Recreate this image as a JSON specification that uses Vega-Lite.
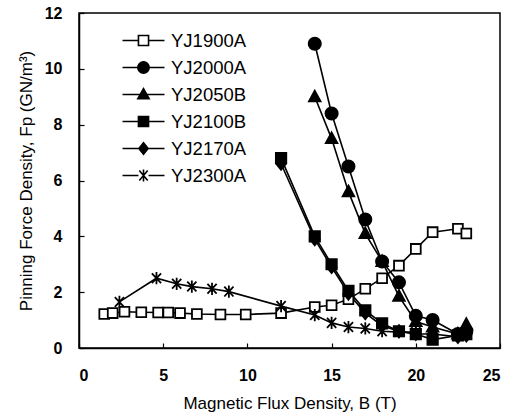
{
  "$schema": "https://vega.github.io/schema/vega-lite/v6.json",
  "width": 421,
  "height": 335,
  "autosize": {"type": "none"},
  "padding": {"left": 79, "top": 13, "right": 15, "bottom": 66},
  "background": "white",
  "config": {
    "font": "Liberation Sans",
    "view": {"stroke": "black", "strokeWidth": 1.5},
    "axis": {
      "grid": false,
      "domainColor": "black",
      "domainWidth": 1.5,
      "tickColor": "black",
      "tickWidth": 1.2,
      "tickSize": -5,
      "labelColor": "black",
      "labelFont": "Liberation Sans",
      "labelFontSize": 16,
      "labelFontWeight": "bold",
      "titleColor": "black",
      "titleFont": "Liberation Sans",
      "titleFontSize": 17,
      "titleFontWeight": "normal"
    },
    "legend": {
      "title": null,
      "orient": "none",
      "legendX": 53,
      "legendY": 16,
      "padding": 0,
      "symbolSize": 441,
      "symbolStrokeColor": "black",
      "symbolStrokeWidth": 1.6,
      "symbolOpacity": 1,
      "labelFontSize": 18.5,
      "labelFont": "Liberation Sans",
      "labelColor": "black",
      "labelOffset": 16,
      "rowPadding": 6
    }
  },
  "data": {
    "values": [
      {"series": "YJ1900A", "B": 1.5, "Fp": 1.22},
      {"series": "YJ1900A", "B": 2.0, "Fp": 1.25},
      {"series": "YJ1900A", "B": 2.7, "Fp": 1.3},
      {"series": "YJ1900A", "B": 3.7, "Fp": 1.28},
      {"series": "YJ1900A", "B": 4.7, "Fp": 1.27},
      {"series": "YJ1900A", "B": 5.3, "Fp": 1.27},
      {"series": "YJ1900A", "B": 6.0, "Fp": 1.25},
      {"series": "YJ1900A", "B": 7.0, "Fp": 1.22},
      {"series": "YJ1900A", "B": 8.4, "Fp": 1.2},
      {"series": "YJ1900A", "B": 9.9, "Fp": 1.2},
      {"series": "YJ1900A", "B": 12.0, "Fp": 1.25},
      {"series": "YJ1900A", "B": 14.0, "Fp": 1.47},
      {"series": "YJ1900A", "B": 15.0, "Fp": 1.53},
      {"series": "YJ1900A", "B": 16.0, "Fp": 1.75},
      {"series": "YJ1900A", "B": 17.0, "Fp": 2.12},
      {"series": "YJ1900A", "B": 18.0, "Fp": 2.5},
      {"series": "YJ1900A", "B": 19.0, "Fp": 2.95},
      {"series": "YJ1900A", "B": 20.0, "Fp": 3.55},
      {"series": "YJ1900A", "B": 21.0, "Fp": 4.15},
      {"series": "YJ1900A", "B": 22.5, "Fp": 4.27},
      {"series": "YJ1900A", "B": 23.0, "Fp": 4.1},
      {"series": "YJ2000A", "B": 14.0, "Fp": 10.9},
      {"series": "YJ2000A", "B": 15.0, "Fp": 8.4},
      {"series": "YJ2000A", "B": 16.0, "Fp": 6.5},
      {"series": "YJ2000A", "B": 17.0, "Fp": 4.6},
      {"series": "YJ2000A", "B": 18.0, "Fp": 3.1},
      {"series": "YJ2000A", "B": 19.0, "Fp": 2.35},
      {"series": "YJ2000A", "B": 20.0, "Fp": 1.15},
      {"series": "YJ2000A", "B": 21.0, "Fp": 1.0},
      {"series": "YJ2000A", "B": 22.5, "Fp": 0.5},
      {"series": "YJ2000A", "B": 23.0, "Fp": 0.6},
      {"series": "YJ2050B", "B": 14.0, "Fp": 9.0},
      {"series": "YJ2050B", "B": 15.0, "Fp": 7.5},
      {"series": "YJ2050B", "B": 16.0, "Fp": 5.6},
      {"series": "YJ2050B", "B": 17.0, "Fp": 4.1},
      {"series": "YJ2050B", "B": 18.0, "Fp": 3.1},
      {"series": "YJ2050B", "B": 19.0, "Fp": 1.85},
      {"series": "YJ2050B", "B": 20.0, "Fp": 0.95},
      {"series": "YJ2050B", "B": 21.0, "Fp": 0.75},
      {"series": "YJ2050B", "B": 22.5, "Fp": 0.5},
      {"series": "YJ2050B", "B": 23.0, "Fp": 0.85},
      {"series": "YJ2100B", "B": 12.0, "Fp": 6.8},
      {"series": "YJ2100B", "B": 14.0, "Fp": 4.0},
      {"series": "YJ2100B", "B": 15.0, "Fp": 3.0},
      {"series": "YJ2100B", "B": 16.0, "Fp": 2.05},
      {"series": "YJ2100B", "B": 17.0, "Fp": 1.35},
      {"series": "YJ2100B", "B": 18.0, "Fp": 0.88},
      {"series": "YJ2100B", "B": 19.0, "Fp": 0.6},
      {"series": "YJ2100B", "B": 20.0, "Fp": 0.5},
      {"series": "YJ2100B", "B": 21.0, "Fp": 0.3},
      {"series": "YJ2100B", "B": 22.5, "Fp": 0.45},
      {"series": "YJ2100B", "B": 23.0, "Fp": 0.5},
      {"series": "YJ2170A", "B": 12.0, "Fp": 6.6},
      {"series": "YJ2170A", "B": 14.0, "Fp": 3.9},
      {"series": "YJ2170A", "B": 15.0, "Fp": 2.9},
      {"series": "YJ2170A", "B": 16.0, "Fp": 1.95},
      {"series": "YJ2170A", "B": 17.0, "Fp": 1.25},
      {"series": "YJ2170A", "B": 18.0, "Fp": 0.8},
      {"series": "YJ2170A", "B": 19.0, "Fp": 0.6},
      {"series": "YJ2170A", "B": 20.0, "Fp": 0.5},
      {"series": "YJ2170A", "B": 21.0, "Fp": 0.5},
      {"series": "YJ2170A", "B": 22.5, "Fp": 0.4},
      {"series": "YJ2170A", "B": 23.0, "Fp": 0.45},
      {"series": "YJ2300A", "B": 2.4, "Fp": 1.65},
      {"series": "YJ2300A", "B": 4.6, "Fp": 2.5},
      {"series": "YJ2300A", "B": 5.8, "Fp": 2.3},
      {"series": "YJ2300A", "B": 6.7, "Fp": 2.2},
      {"series": "YJ2300A", "B": 7.9, "Fp": 2.12},
      {"series": "YJ2300A", "B": 8.9, "Fp": 2.02},
      {"series": "YJ2300A", "B": 12.0, "Fp": 1.5},
      {"series": "YJ2300A", "B": 14.0, "Fp": 1.18},
      {"series": "YJ2300A", "B": 15.0, "Fp": 0.9},
      {"series": "YJ2300A", "B": 16.0, "Fp": 0.75},
      {"series": "YJ2300A", "B": 17.0, "Fp": 0.7},
      {"series": "YJ2300A", "B": 18.0, "Fp": 0.6},
      {"series": "YJ2300A", "B": 19.0, "Fp": 0.57},
      {"series": "YJ2300A", "B": 20.0, "Fp": 0.57}
    ]
  },
  "encoding": {
    "x": {
      "field": "B",
      "type": "quantitative",
      "scale": {"domain": [0, 25], "nice": false},
      "axis": {"values": [0, 5, 10, 15, 20, 25], "title": "Magnetic Flux Density, B (T)", "labelPadding": 24, "titlePadding": 12}
    },
    "y": {
      "field": "Fp",
      "type": "quantitative",
      "scale": {"domain": [0, 12], "nice": false},
      "axis": {"values": [0, 2, 4, 6, 8, 10, 12], "title": "Pinning Force Density, Fp (GN/m³)", "labelPadding": 22, "titlePadding": 9}
    }
  },
  "layer": [
    {
      "mark": {"type": "line", "color": "black", "strokeWidth": 1.6},
      "encoding": {"detail": {"field": "series", "type": "nominal"}}
    },
    {
      "mark": {"type": "point", "filled": true, "stroke": "black", "strokeWidth": 1.8, "opacity": 1, "size": 150},
      "encoding": {
        "shape": {
          "field": "series",
          "type": "nominal",
          "scale": {
            "domain": ["YJ1900A", "YJ2000A", "YJ2050B", "YJ2100B", "YJ2170A", "YJ2300A"],
            "range": [
              "M-0.8,-0.8H0.8V0.8H-0.8Z",
              "circle",
              "M0,-1L0.95,0.75H-0.95Z",
              "M-0.85,-0.85H0.85V0.85H-0.85Z",
              "M0,-1L0.8,0L0,1L-0.8,0Z",
              "M-0.75,-0.8L0.75,0.8M-0.75,0.8L0.75,-0.8M0,-1V1"
            ]
          },
          "legend": null
        },
        "fill": {
          "field": "series",
          "type": "nominal",
          "scale": {
            "domain": ["YJ1900A", "YJ2000A", "YJ2050B", "YJ2100B", "YJ2170A", "YJ2300A"],
            "range": ["white", "black", "black", "black", "black", "black"]
          },
          "legend": null
        }
      }
    },
    {
      "mark": {"type": "point", "filled": true, "stroke": "black", "strokeWidth": 1.6, "opacity": 0},
      "encoding": {
        "shape": {
          "field": "series",
          "type": "nominal",
          "scale": {
            "domain": ["YJ1900A", "YJ2000A", "YJ2050B", "YJ2100B", "YJ2170A", "YJ2300A"],
            "range": [
              "M-2,0H-0.48M0.48,0H2M-0.48,-0.48H0.48V0.48H-0.48Z",
              "M-2,0H2M0.54,0A0.54,0.54 0 1 1 -0.54,0A0.54,0.54 0 1 1 0.54,0Z",
              "M-2,0H2M0,-0.56L0.54,0.4H-0.54Z",
              "M-2,0H2M-0.48,-0.48H0.48V0.48H-0.48Z",
              "M-2,0H2M0,-0.54L0.44,0L0,0.54L-0.44,0Z",
              "M-2,0H-0.48M0.48,0H2M-0.4,-0.48L0.4,0.48M-0.4,0.48L0.4,-0.48M0,-0.56V0.56"
            ]
          },
          "legend": {
            "encode": {"symbols": {"update": {"stroke": {"value": "black"}, "strokeWidth": {"value": 1.6}, "opacity": {"value": 1}}}}
          }
        },
        "fill": {
          "field": "series",
          "type": "nominal",
          "scale": {
            "domain": ["YJ1900A", "YJ2000A", "YJ2050B", "YJ2100B", "YJ2170A", "YJ2300A"],
            "range": ["white", "black", "black", "black", "black", "black"]
          },
          "legend": {
            "encode": {"symbols": {"update": {"stroke": {"value": "black"}, "strokeWidth": {"value": 1.6}, "opacity": {"value": 1}}}}
          }
        }
      }
    }
  ],
  "resolve": {
    "scale": {"shape": "independent", "fill": "independent"},
    "legend": {"shape": "independent", "fill": "independent"}
  }
}
